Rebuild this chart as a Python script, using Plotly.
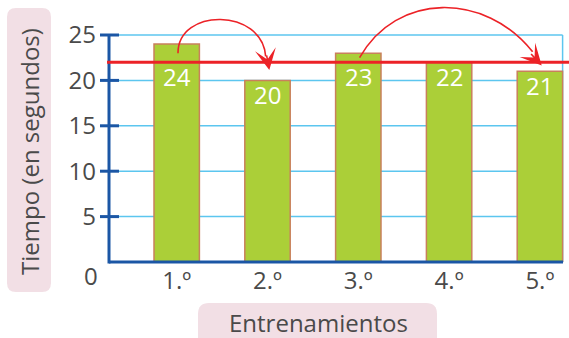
import plotly.graph_objects as go

# ---------------- data ----------------
CATEGORIES = ["1.º", "2.º", "3.º", "4.º", "5.º"]
TIEMPOS = [24, 20, 23, 22, 21]
Y_TICKS = [5, 10, 15, 20, 25]
REFERENCIA = 22
ARROW_PAIRS = [(0, 1), (2, 4)]
Y_TITLE = "Tiempo (en segundos)"
X_TITLE = "Entrenamientos"

# ---------------- layout constants ----------------
W, H = 569, 338
ML, MR, MT, MB = 109, 0, 0, 76
PW, PH = W - ML - MR, H - MT - MB
X_RANGE = [-0.7456, 4.3205]
Y_RANGE = [0, 28.855]
BAR_W = 0.5
FONT = "Open Sans"
TXT = "#4a4a4a"
BLUE = "#1b56a5"
GRID = "#5cc6ef"
RED = "#ec2227"
GREEN = "#abcf38"
BAR_EDGE = "#c9805c"
PINK = "#f2dfe5"
# arrow styling (control heights, horizontal offsets, arrowhead tail offsets)
ARROW_CTRL_Y = [28.0, 29.75]
ARROW_P1_DX = [0.014, 0.42]
ARROW_P2_DX = [0.06, 0.6]
ARROW_TAIL = [(-3, -16), (-12, -13)]


def pxx(px):
    return (px - ML) / PW


def pxy(py):
    return (H - MB - py) / PH


def ypaper(v):
    return (v - Y_RANGE[0]) / (Y_RANGE[1] - Y_RANGE[0])


def rounded_rect(x0, y0, x1, y1, r):
    pts = [
        ("M", [(x0 + r, y0)]),
        ("L", [(x1 - r, y0)]),
        ("Q", [(x1, y0), (x1, y0 + r)]),
        ("L", [(x1, y1 - r)]),
        ("Q", [(x1, y1), (x1 - r, y1)]),
        ("L", [(x0 + r, y1)]),
        ("Q", [(x0, y1), (x0, y1 - r)]),
        ("L", [(x0, y0 + r)]),
        ("Q", [(x0, y0), (x0 + r, y0)]),
    ]
    s = ""
    for cmd, ps in pts:
        s += cmd + " " + " ".join(f"{pxx(a):.5f},{pxy(b):.5f}" for a, b in ps) + " "
    return s + "Z"


fig = go.Figure()
fig.add_trace(go.Bar(
    x=list(range(len(CATEGORIES))), y=TIEMPOS, width=BAR_W,
    marker=dict(color=GREEN, line=dict(color=BAR_EDGE, width=1.5)),
    hoverinfo="skip",
))

shapes = []
# title boxes
shapes.append(dict(type="path", xref="paper", yref="paper", layer="below",
                   path=rounded_rect(7, 8, 51, 292, 9), fillcolor=PINK, line=dict(width=0)))
shapes.append(dict(type="path", xref="paper", yref="paper", layer="below",
                   path=rounded_rect(198, 303, 437, 350, 11), fillcolor=PINK, line=dict(width=0)))
# gridlines
x_right = len(CATEGORIES) - 1 + BAR_W / 2
for v in Y_TICKS:
    shapes.append(dict(type="line", xref="x", yref="y", layer="below",
                       x0=X_RANGE[0], x1=x_right, y0=v, y1=v,
                       line=dict(color=GRID, width=1.5)))
shapes.append(dict(type="line", xref="x", yref="y", layer="below",
                   x0=x_right, x1=x_right, y0=0, y1=Y_TICKS[-1],
                   line=dict(color=GRID, width=1.5)))
# axes
shapes.append(dict(type="line", xref="paper", yref="paper", x0=0, x1=0,
                   y0=-1.5 / PH, y1=ypaper(Y_TICKS[-1]), line=dict(color=BLUE, width=3)))
shapes.append(dict(type="line", xref="x", yref="paper", x0=X_RANGE[0], x1=x_right + 0.005,
                   y0=0, y1=0, line=dict(color=BLUE, width=3)))
for v in Y_TICKS:
    shapes.append(dict(type="line", xref="paper", yref="y", x0=pxx(100), x1=pxx(119),
                       y0=v, y1=v, line=dict(color=BLUE, width=3)))
# reference line
shapes.append(dict(type="line", xref="paper", yref="y", x0=pxx(107), x1=1,
                   y0=REFERENCIA, y1=REFERENCIA, line=dict(color=RED, width=3)))

annotations = []
# curved arrows from one training to another
for k, (s, d) in enumerate(ARROW_PAIRS):
    span = d - s
    p0 = (s + 0.014, (TIEMPOS[s] + REFERENCIA) / 2)
    tip = (d + 0.02, (TIEMPOS[d] + REFERENCIA) / 2 + 0.15)
    p3 = (tip[0] - 0.04 - 0.06 * (span - 1), tip[1] + 1.5)
    p1 = (s + ARROW_P1_DX[k], ARROW_CTRL_Y[k])
    p2 = (d - ARROW_P2_DX[k], ARROW_CTRL_Y[k])
    path = (f"M {p0[0]},{p0[1]} C {p1[0]},{p1[1]} {p2[0]},{p2[1]} {p3[0]},{p3[1]}")
    shapes.append(dict(type="path", xref="x", yref="y", path=path,
                       line=dict(color=RED, width=1.6)))
    annotations.append(dict(x=tip[0], y=tip[1], xref="x", yref="y", text="",
                            showarrow=True, arrowhead=3, arrowsize=2.2, arrowwidth=1.6,
                            arrowcolor=RED, ax=ARROW_TAIL[k][0], ay=ARROW_TAIL[k][1]))

# value labels
for i, v in enumerate(TIEMPOS):
    annotations.append(dict(x=i, y=min(v, REFERENCIA) - 1.6, xref="x", yref="y",
                            text=str(v), showarrow=False, yanchor="middle",
                            font=dict(family=FONT, size=24, color="white")))
# zero label
annotations.append(dict(x=0, y=0, xref="paper", yref="y", text="0", showarrow=False,
                        xanchor="right", yanchor="middle", xshift=-9, yshift=-13,
                        font=dict(family=FONT, size=24, color=TXT)))
# titles
annotations.append(dict(x=pxx(29), y=pxy(152), xref="paper", yref="paper", text=Y_TITLE,
                        textangle=-90, showarrow=False, xanchor="center", yanchor="middle",
                        font=dict(family=FONT, size=24, color=TXT)))
annotations.append(dict(x=pxx(318), y=pxy(322), xref="paper", yref="paper", text=X_TITLE,
                        showarrow=False, xanchor="center", yanchor="middle",
                        font=dict(family=FONT, size=24, color=TXT)))

fig.update_layout(
    width=W, height=H, margin=dict(l=ML, r=MR, t=MT, b=MB, pad=0),
    plot_bgcolor="white", paper_bgcolor="white", showlegend=False,
    shapes=shapes, annotations=annotations,
    font=dict(family=FONT, color=TXT),
    xaxis=dict(range=X_RANGE, tickvals=list(range(len(CATEGORIES))), ticktext=CATEGORIES,
               showgrid=False, zeroline=False, showline=False, ticks="",
               tickfont=dict(family=FONT, size=24, color=TXT), ticklabelstandoff=2),
    yaxis=dict(range=Y_RANGE, tickvals=Y_TICKS, ticktext=[str(t) for t in Y_TICKS],
               showgrid=False, zeroline=False, showline=False, ticks="",
               tickfont=dict(family=FONT, size=24, color=TXT), ticklabelstandoff=12),
)

fig.write_html("out.html", config={"displayModeBar": False},
               post_script="document.body.style.margin='0px';")
